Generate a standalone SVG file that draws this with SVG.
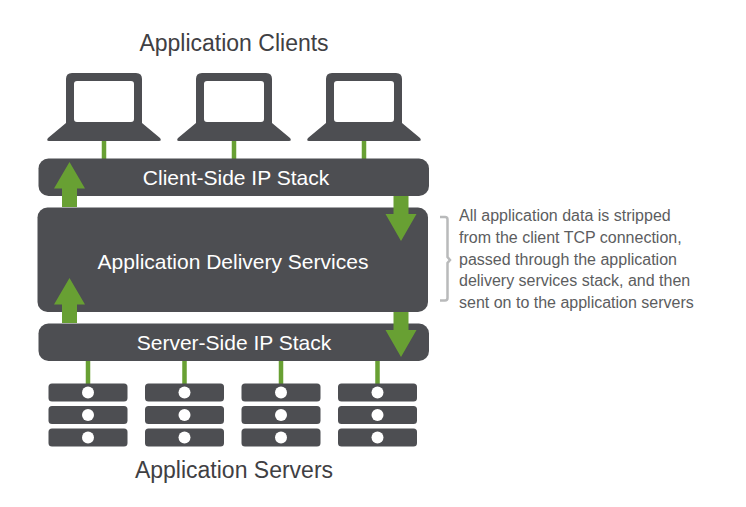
<svg xmlns="http://www.w3.org/2000/svg" width="746" height="507" viewBox="0 0 746 507">
<style>
.bar{fill:#4d4e52}
.t{font-family:"Liberation Sans",Arial,sans-serif;fill:#3f4043}
.w{font-family:"Liberation Sans",Arial,sans-serif;fill:#fff;font-size:21px;text-anchor:middle}
.note{font-family:"Liberation Sans",Arial,sans-serif;fill:#5c5d60;font-size:16px}
.link{stroke:#68a033;stroke-width:4.5;fill:none}
.arrow{fill:#68a033}
.dot{fill:#fff}
</style>
<defs>
<g id="laptop"><path class="bar" fill-rule="evenodd" d="M-32 -68H32Q38 -68 38 -62V-18L56 -3Q58 0 55 0H-55Q-58 0 -56 -3L-38 -18V-62Q-38 -68 -32 -68ZM-27 -60Q-30 -60 -30 -57V-22Q-30 -19 -27 -19H27Q30 -19 30 -22V-57Q30 -60 27 -60Z"/></g>
<g id="server">
<rect class="bar" x="-39.5" y="0" width="79" height="18" rx="3.5"/><circle class="dot" cx="0" cy="9" r="6"/>
<rect class="bar" x="-39.5" y="22.5" width="79" height="18" rx="3.5"/><circle class="dot" cx="0" cy="31.5" r="6"/>
<rect class="bar" x="-39.5" y="45" width="79" height="18" rx="3.5"/><circle class="dot" cx="0" cy="54" r="6"/>
</g>
<path id="up" class="arrow" d="M0 0L15.5 26.5H7.5V45H-7.5V26.5H-15.5Z"/>
<path id="down" class="arrow" d="M0 0L15.5 -27H7.5V-45H-7.5V-27H-15.5Z"/>
</defs>
<g id="connectors">
<path class="link" d="M104 141V159M234 141V159M364 141V159M88 361V384M184.500 361V384M281 361V384M377.500 361V384"/>
</g>
<text id="title-clients" class="t" x="234" y="51" font-size="23" text-anchor="middle">Application Clients</text>
<g id="client-1"><use href="#laptop" x="104" y="141"/></g>
<g id="client-2"><use href="#laptop" x="234" y="141"/></g>
<g id="client-3"><use href="#laptop" x="364" y="141"/></g>
<g id="client-stack"><rect class="bar" x="38.500" y="158.500" width="390.500" height="37.500" rx="10"/><text class="w" x="236" y="184.500">Client-Side IP Stack</text></g>
<g id="delivery"><rect class="bar" x="37.500" y="207.500" width="390.500" height="104.500" rx="10"/><text class="w" x="233" y="268.500" font-size="21">Application Delivery Services</text></g>
<g id="server-stack"><rect class="bar" x="38.500" y="323.500" width="390.500" height="37.500" rx="10"/><text class="w" x="234" y="349.500">Server-Side IP Stack</text></g>
<g id="server-1"><use href="#server" x="88" y="383.500"/></g>
<g id="server-2"><use href="#server" x="184.500" y="383.500"/></g>
<g id="server-3"><use href="#server" x="281" y="383.500"/></g>
<g id="server-4"><use href="#server" x="377.500" y="383.500"/></g>
<g id="arrows">
<use href="#up" x="69.500" y="162"/>
<use href="#up" x="69.500" y="278"/>
<use href="#down" x="401" y="241"/>
<use href="#down" x="401" y="357"/>
</g>
<text id="title-servers" class="t" x="234" y="478" font-size="23" text-anchor="middle">Application Servers</text>
<g id="note">
<path d="M440 217H445Q447.500 217 447.500 219.500V257L450 260L447.500 263V298Q447.500 300.500 445 300.500H440" fill="none" stroke="#b9babb" stroke-width="2.500"/>
<text class="note"><tspan x="459" y="221">All application data is stripped</tspan><tspan x="459" y="242.500">from the client TCP connection,</tspan><tspan x="459" y="264.500">passed through the application</tspan><tspan x="459" y="286">delivery services stack, and then</tspan><tspan x="459" y="308">sent on to the application servers</tspan></text>
</g>
</svg>
